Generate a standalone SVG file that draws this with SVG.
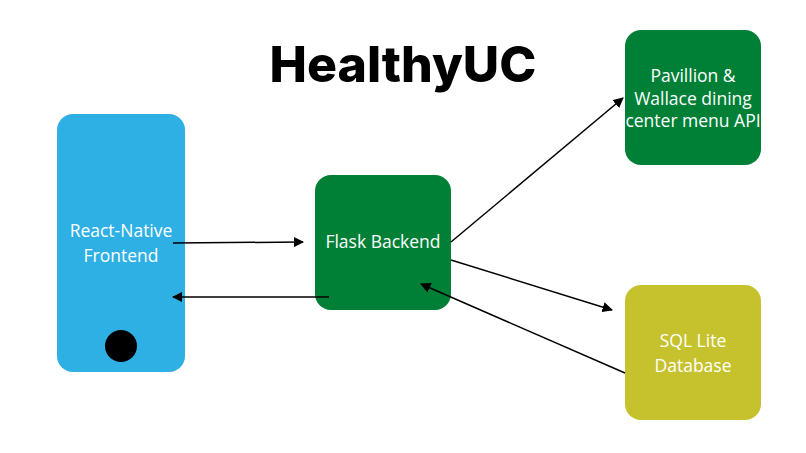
<svg xmlns="http://www.w3.org/2000/svg" width="806" height="453" viewBox="0 0 806 453">
<style>
.t{font-family:"Open Sans","Noto Sans",sans-serif;font-size:17.5px;fill:#fff;text-anchor:middle}
.c{stroke:#000;stroke-width:1.5;fill:none;marker-end:url(#a)}
</style>
<defs><marker id="a" viewBox="0 0 10 10" refX="9" refY="5" markerWidth="7" markerHeight="7" orient="auto"><path d="M0,0L10,5L0,10z" fill="#000"/></marker></defs>
<rect width="806" height="453" fill="#fff"/>
<text x="403" y="82" font-family="Inter,sans-serif" font-weight="800" font-size="50" text-anchor="middle" fill="#000">HealthyUC</text>
<g id="frontend"><rect x="57" y="114" width="128" height="258" rx="16" fill="#2eb0e5"/><text class="t" x="121" y="237">React-Native</text><text class="t" x="121" y="262">Frontend</text><circle cx="121" cy="346" r="16" fill="#000"/></g>
<g id="backend"><rect x="315" y="175" width="136" height="135" rx="16" fill="#007f36"/><text class="t" x="383" y="248">Flask Backend</text></g>
<g id="api"><rect x="625" y="30" width="136" height="135" rx="16" fill="#007f36"/><text class="t" x="693" y="82">Pavillion &amp;</text><text class="t" x="693" y="105">Wallace dining</text><text class="t" x="693" y="127">center menu API</text></g>
<g id="db"><rect x="625" y="285" width="136" height="135" rx="16" fill="#c6c22d"/><text class="t" x="693" y="347">SQL Lite</text><text class="t" x="693" y="372">Database</text></g>
<g id="connectors">
<line class="c" x1="173" y1="243" x2="303" y2="242"/>
<line class="c" x1="329" y1="297" x2="173" y2="297"/>
<line class="c" x1="451" y1="242" x2="623" y2="98"/>
<line class="c" x1="451" y1="260" x2="612" y2="310"/>
<line class="c" x1="625" y1="373" x2="421" y2="284"/>
</g>
</svg>
